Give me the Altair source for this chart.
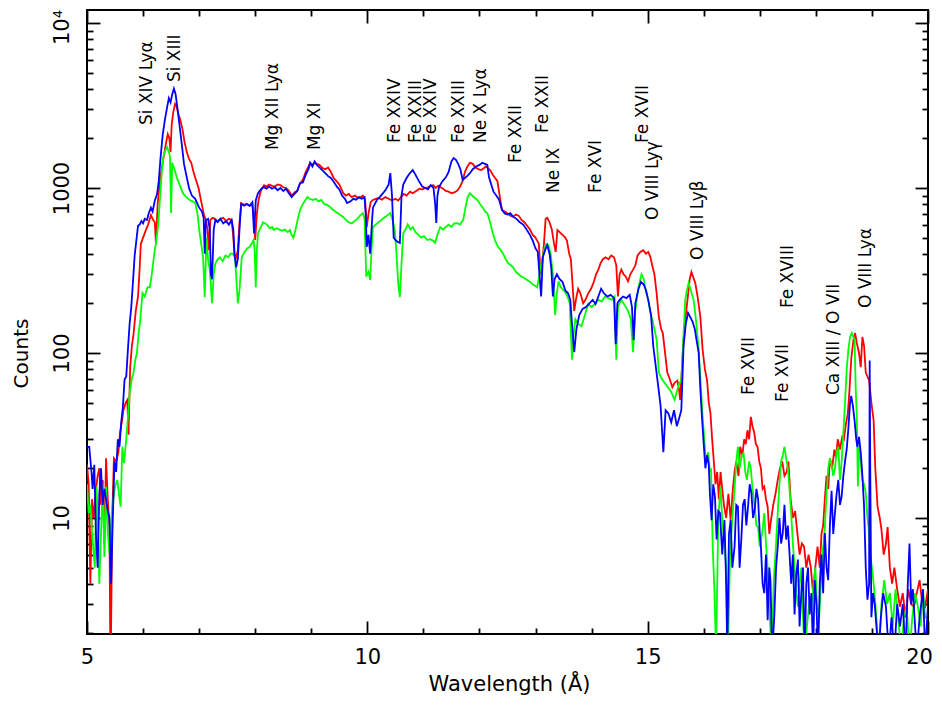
import altair as alt
import pandas as pd

FONT = "DejaVu Sans"

# ---------------- data ----------------
blue_wl = [5.00,5.04,5.08,5.10,5.13,5.16,5.19,5.22,5.25,5.28,5.31,5.34,5.37,5.40,5.43,5.46,5.49,5.52,5.55,5.58,
5.61,5.64,5.67,5.70,5.73,5.76,5.79,5.82,5.85,5.88,5.91,5.94,5.97,6.00,6.03,6.07,6.10,6.14,6.17,6.21,
6.25,6.28,6.31,6.35,6.39,6.43,6.46,6.49,6.52,6.55,6.58,6.61,6.65,6.69,6.73,6.77,6.82,6.87,6.93,7.00,
7.05,7.08,7.10,7.12,7.16,7.19,7.21,7.23,7.26,7.29,7.33,7.38,7.43,7.48,7.53,7.58,7.61,7.63,7.66,7.69,
7.72,7.75,7.80,7.85,7.90,7.95,7.98,8.01,8.05,8.10,8.15,8.20,8.25,8.30,8.35,8.40,8.45,8.50,8.55,8.60,
8.65,8.70,8.75,8.80,8.85,8.90,8.95,8.98,9.02,9.06,9.10,9.15,9.20,9.25,9.30,9.35,9.40,9.46,9.50,9.55,
9.60,9.64,9.70,9.75,9.80,9.85,9.90,9.95,9.97,9.99,10.02,10.05,10.08,10.10,10.17,10.22,10.28,10.33,10.38,10.41,
10.44,10.47,10.51,10.55,10.58,10.61,10.64,10.70,10.75,10.81,10.86,10.92,10.98,11.03,11.08,11.13,11.18,11.21,11.23,11.25,
11.28,11.34,11.40,11.45,11.50,11.54,11.58,11.62,11.66,11.70,11.74,11.78,11.83,11.88,11.94,12.00,12.05,12.10,12.14,12.17,
12.21,12.25,12.30,12.35,12.40,12.45,12.50,12.55,12.60,12.66,12.72,12.78,12.84,12.90,12.95,13.00,13.04,13.07,13.10,13.13,
13.17,13.21,13.25,13.28,13.31,13.34,13.38,13.43,13.48,13.53,13.58,13.62,13.65,13.69,13.73,13.78,13.84,13.90,13.96,14.02,
14.07,14.12,14.17,14.22,14.28,14.34,14.40,14.43,14.46,14.50,14.56,14.62,14.68,14.72,14.75,14.78,14.83,14.88,14.93,14.97,
15.01,15.06,15.10,15.15,15.19,15.23,15.28,15.32,15.37,15.42,15.47,15.52,15.56,15.60,15.64,15.68,15.72,15.76,15.80,15.84,
15.88,15.91,15.94,15.97,16.00,16.03,16.06,16.09,16.11,16.14,16.17,16.20,16.23,16.26,16.29,16.33,16.37,16.40,16.42,16.45,
16.48,16.51,16.55,16.58,16.61,16.64,16.67,16.70,16.73,16.76,16.79,16.82,16.85,16.88,16.91,16.94,16.97,17.00,17.02,17.05,
17.08,17.11,17.14,17.17,17.19,17.22,17.26,17.29,17.32,17.35,17.38,17.41,17.44,17.47,17.50,17.53,17.56,17.59,17.62,17.65,
17.68,17.71,17.74,17.77,17.80,17.83,17.86,17.89,17.92,17.95,17.98,18.01,18.04,18.07,18.10,18.13,18.16,18.19,18.22,18.25,
18.28,18.31,18.34,18.37,18.40,18.43,18.46,18.49,18.52,18.55,18.58,18.61,18.63,18.66,18.69,18.72,18.74,18.77,18.80,18.83,
18.86,18.89,18.92,18.95,18.96,18.97,18.99,19.02,19.05,19.08,19.12,19.16,19.20,19.25,19.30,19.35,19.40,19.45,19.50,19.55,
19.60,19.64,19.67,19.70,19.73,19.77,19.80,19.85,19.91,19.95,20.00]
blue_counts = [27,27,19,15,21,8,5,14,20,12,15,13,11,10,4,10,22,19,30,27,
38,47,69,72,105,150,190,270,390,480,590,600,630,610,650,640,700,760,720,840,
920,1100,1500,2100,2600,3100,3500,3300,3700,4000,3700,3100,2400,1850,1400,1200,1000,900,860,760,
720,660,400,640,650,560,300,280,560,640,620,650,610,630,600,640,560,400,330,370,
560,800,780,800,780,820,530,840,930,980,1015,990,1020,990,1010,970,1000,960,990,930,
880,920,960,1070,1080,1200,1300,1420,1350,1450,1380,1330,1280,1230,1180,1150,1090,1015,980,900,
860,810,830,860,850,880,860,880,700,440,520,400,600,760,846,880,930,980,1050,1230,
900,500,480,470,465,900,1050,1150,1220,1285,1200,1100,1020,1000,980,1040,1000,800,613,900,
1015,1100,1160,1250,1450,1520,1480,1400,1300,1120,1150,1180,1230,1300,1350,1380,1420,1400,1380,1160,
1050,950,900,850,740,700,690,705,670,650,620,600,560,520,480,430,410,300,220,380,
420,450,400,330,220,280,300,280,270,240,230,210,150,101,140,170,185,190,200,210,
198,220,245,230,220,225,215,113,200,210,220,215,225,190,120,200,240,270,260,240,
210,170,110,80,62,48,25,45,43,38,45,36,40,45,110,150,175,165,155,140,
115,100,60,40,28,20,24,21,14,9.7,16,13.5,7.4,11,10.7,6,9.7,4,1.5,8,
9.7,5,6.7,12,11.7,5,7.4,12,13,9,11.7,16,14.2,10,11.3,15,13,8,6.7,4,
3.5,6,2.4,5,4.2,1.5,2.6,5,6.7,10,7,8.1,12,7.4,9,6.1,4,6,2.6,4.5,
5.6,2.2,3.5,5,1.5,4,5,2.6,3.5,1.5,4.2,3,1.5,4,6,3.5,8.1,5,4.2,9,
14.6,8,10.7,14,17,12,13.5,18,22,26,35,50,55,48,39,30,27,31,25,18,
11.7,5,3.2,4,90,20,2.5,3.5,3,2.2,1.5,2.5,3.5,2.9,1.5,2.5,1.5,3,2.2,3,
1.5,4,7,3,3.7,2.2,1.5,2.5,3.7,1.5,3]

red_wl = [5.00,5.03,5.06,5.09,5.12,5.16,5.19,5.22,5.25,5.28,5.31,5.34,5.37,5.40,5.42,5.45,5.48,5.52,5.56,5.59,
5.62,5.65,5.69,5.72,5.74,5.77,5.80,5.83,5.87,5.91,5.94,5.96,6.00,6.05,6.09,6.14,6.18,6.21,6.23,6.26,
6.30,6.35,6.40,6.44,6.47,6.49,6.51,6.54,6.57,6.60,6.63,6.66,6.70,6.74,6.78,6.82,6.86,6.90,6.95,6.99,
7.03,7.06,7.09,7.12,7.15,7.17,7.20,7.24,7.28,7.33,7.38,7.43,7.48,7.53,7.58,7.61,7.63,7.66,7.69,7.72,
7.75,7.80,7.85,7.90,7.95,7.98,8.00,8.03,8.06,8.10,8.16,8.20,8.25,8.30,8.35,8.40,8.45,8.50,8.55,8.60,
8.65,8.70,8.75,8.80,8.85,8.90,8.95,8.98,9.02,9.06,9.10,9.15,9.20,9.25,9.30,9.35,9.40,9.45,9.50,9.57,
9.62,9.67,9.72,9.78,9.83,9.88,9.92,9.96,9.99,10.02,10.06,10.10,10.15,10.20,10.26,10.32,10.38,10.44,10.50,10.55,
10.60,10.65,10.70,10.76,10.81,10.87,10.93,10.98,11.03,11.08,11.13,11.18,11.22,11.26,11.30,11.35,11.40,11.45,11.50,11.55,
11.60,11.65,11.70,11.74,11.78,11.83,11.88,11.93,11.98,12.03,12.07,12.11,12.15,12.19,12.24,12.28,12.32,12.36,12.40,12.45,
12.49,12.55,12.60,12.65,12.70,12.75,12.80,12.85,12.90,12.95,12.99,13.03,13.06,13.09,13.12,13.15,13.18,13.21,13.25,13.29,
13.33,13.36,13.39,13.43,13.48,13.52,13.56,13.60,13.63,13.66,13.69,13.72,13.76,13.80,13.85,13.89,13.94,13.99,14.04,14.08,
14.12,14.16,14.20,14.25,14.30,14.35,14.40,14.44,14.47,14.50,14.53,14.57,14.61,14.65,14.69,14.74,14.78,14.82,14.87,14.92,
14.97,15.01,15.05,15.08,15.12,15.16,15.20,15.24,15.27,15.31,15.35,15.39,15.44,15.48,15.53,15.56,15.58,15.61,15.64,15.68,
15.71,15.75,15.78,15.81,15.85,15.89,15.94,15.98,16.02,16.06,16.09,16.12,16.15,16.18,16.21,16.24,16.27,16.30,16.33,16.36,
16.40,16.44,16.48,16.52,16.55,16.58,16.62,16.65,16.69,16.72,16.75,16.78,16.81,16.84,16.87,16.90,16.93,16.96,16.99,17.02,
17.05,17.08,17.11,17.14,17.17,17.20,17.24,17.28,17.32,17.36,17.40,17.44,17.48,17.51,17.55,17.59,17.63,17.67,17.71,17.75,
17.79,17.83,17.87,17.91,17.95,17.99,18.03,18.07,18.10,18.13,18.16,18.19,18.22,18.25,18.29,18.33,18.36,18.39,18.43,18.47,
18.50,18.53,18.57,18.60,18.63,18.67,18.70,18.73,18.77,18.80,18.83,18.86,18.89,18.92,18.95,18.99,19.03,19.06,19.10,19.14,
19.17,19.21,19.25,19.28,19.32,19.36,19.40,19.45,19.50,19.55,19.60,19.65,19.70,19.75,19.80,19.85,19.90,19.95,20.00]
red_counts = [21,16,4,13,10,15,18,20,12,17,7,23,13,9,1,10,23,22,25,33,
38,45,50,52,32,82,110,130,180,220,330,458,500,555,600,685,640,620,458,800,
1100,1420,1800,2120,2000,1650,2400,2900,3230,3100,2800,2620,2300,1900,1650,1500,1420,1250,1100,1000,
850,760,680,640,560,420,640,660,650,630,650,660,630,650,640,500,400,380,420,620,
810,790,800,780,790,650,484,700,846,960,1040,1020,1050,1030,1020,1050,1040,1010,1000,960,
900,940,960,1070,1120,1250,1350,1420,1380,1420,1400,1380,1320,1300,1330,1250,1150,1100,1050,930,
900,920,880,900,870,880,900,850,580,700,820,846,860,870,850,880,860,840,860,840,
880,920,900,950,930,960,990,980,1000,1010,1030,1040,1000,1030,1015,990,960,950,930,940,
960,1015,1100,1250,1340,1420,1400,1330,1300,1285,1310,1350,1320,1285,1200,1150,1100,900,736,720,
705,680,670,690,680,640,620,590,560,520,505,480,458,300,350,458,650,660,620,560,
460,410,555,540,520,505,480,400,370,260,180,210,245,230,200,210,230,245,270,300,
320,350,370,380,370,390,380,340,220,300,320,300,290,272,300,320,340,390,410,420,
400,410,380,340,300,230,165,140,132,100,76,70,62,66,68,60,52,80,120,170,
209,280,310,290,265,220,165,105,80,68,50,43,30,22,16,19,13,19,15,12,
10,14,9.7,15,19,22,18,27,24,30,28,34,30,41,36,33,28,27,22,20,
15,15.5,13,11.7,8,9.7,12,14,17,20,22,18,19,22,13,10,11,8.1,6,7,
6.7,5,6,5,3.5,5,6.7,5,8,9,13,18,15,23,20,26,23,30,26,31,
30,36,43,60,91,120,132,115,100,82,125,110,76,72,68,50,39,20,11.7,10,
8.5,6,7,8.8,5,4,5,3.7,2.9,3.5,2.5,3.7,3,2.9,3.5,4.2,3,2.9,3.7]

green_wl = [5.00,5.03,5.06,5.09,5.12,5.14,5.17,5.19,5.22,5.25,5.28,5.31,5.34,5.37,5.40,5.44,5.47,5.50,5.54,5.57,
5.60,5.63,5.66,5.70,5.73,5.76,5.80,5.83,5.86,5.89,5.92,5.95,5.99,6.03,6.08,6.12,6.15,6.17,6.20,6.23,
6.27,6.30,6.33,6.36,6.40,6.43,6.46,6.48,6.50,6.52,6.56,6.60,6.65,6.71,6.77,6.83,6.88,6.93,6.97,7.01,
7.04,7.07,7.10,7.13,7.16,7.19,7.23,7.26,7.29,7.33,7.37,7.42,7.47,7.52,7.56,7.60,7.64,7.67,7.69,7.72,
7.76,7.81,7.86,7.90,7.94,7.97,7.99,8.01,8.03,8.05,8.10,8.14,8.18,8.21,8.26,8.30,8.33,8.38,8.43,8.48,
8.53,8.58,8.62,8.65,8.68,8.72,8.76,8.80,8.85,8.90,8.93,8.97,9.03,9.08,9.13,9.18,9.23,9.28,9.33,9.38,
9.43,9.48,9.53,9.57,9.62,9.67,9.72,9.77,9.82,9.87,9.92,9.95,9.98,10.02,10.05,10.08,10.10,10.15,10.20,10.25,
10.30,10.35,10.41,10.45,10.49,10.52,10.55,10.58,10.61,10.64,10.68,10.72,10.77,10.81,10.86,10.91,10.96,11.01,11.07,11.12,
11.17,11.21,11.25,11.30,11.35,11.40,11.45,11.50,11.55,11.60,11.65,11.71,11.75,11.79,11.83,11.87,11.92,11.96,12.01,12.06,
12.10,12.14,12.19,12.24,12.28,12.33,12.38,12.42,12.47,12.51,12.56,12.60,12.65,12.70,12.75,12.80,12.85,12.90,12.95,13.00,
13.03,13.07,13.11,13.15,13.19,13.23,13.27,13.31,13.35,13.38,13.41,13.45,13.50,13.54,13.57,13.61,13.65,13.68,13.71,13.76,
13.82,13.88,13.94,14.00,14.06,14.12,14.18,14.24,14.30,14.36,14.41,14.44,14.47,14.53,14.59,14.65,14.70,14.74,14.78,14.83,
14.89,14.93,14.96,15.01,15.05,15.08,15.12,15.16,15.20,15.25,15.30,15.36,15.42,15.48,15.53,15.57,15.60,15.64,15.67,15.70,
15.73,15.77,15.82,15.86,15.91,15.94,15.98,16.01,16.04,16.08,16.11,16.13,16.16,16.19,16.22,16.26,16.30,16.33,16.37,16.40,
16.43,16.47,16.51,16.55,16.58,16.61,16.64,16.67,16.71,16.74,16.77,16.81,16.84,16.87,16.91,16.94,16.97,17.00,17.04,17.08,
17.11,17.14,17.18,17.21,17.25,17.29,17.32,17.35,17.38,17.41,17.44,17.47,17.50,17.53,17.56,17.59,17.62,17.65,17.68,17.71,
17.74,17.77,17.80,17.84,17.88,17.92,17.96,17.99,18.02,18.06,18.09,18.12,18.16,18.19,18.22,18.25,18.28,18.31,18.34,18.37,
18.40,18.43,18.46,18.49,18.52,18.55,18.58,18.61,18.64,18.67,18.69,18.71,18.73,18.75,18.77,18.80,18.83,18.86,18.89,18.92,
18.94,18.97,19.00,19.04,19.08,19.12,19.17,19.22,19.27,19.32,19.37,19.42,19.47,19.52,19.57,19.62,19.67,19.72,19.77,19.82,
19.87,19.91,19.95,20.00]
green_counts = [16,10.7,12,8.1,6,5,15.5,10.7,4,8.1,16,5.8,15.5,8.1,6.1,10.7,13,15.5,17,14,
11.7,27,21.5,30,41,57,70,76,90,100,130,158,231,220,250,250,290,330,400,465,
600,846,1200,1540,1700,1770,1650,1550,705,1420,1300,1160,1050,930,880,846,830,810,700,530,
450,380,218,500,366,320,200,300,350,370,380,360,390,380,400,400,380,260,200,240,
380,410,430,440,460,484,420,250,420,530,580,620,610,600,570,580,556,570,560,550,
560,540,556,520,500,560,650,736,800,850,880,860,846,860,830,846,800,790,770,740,
720,700,680,667,640,620,610,630,650,680,705,650,290,310,277,450,580,600,620,640,
660,680,705,640,556,400,265,218,350,530,560,600,560,580,540,520,500,510,484,490,
480,465,520,580,560,580,600,580,610,613,600,640,760,880,930,900,870,846,800,760,
720,705,620,530,480,440,420,400,370,350,340,330,310,300,290,285,277,270,260,255,
250,300,360,420,458,450,400,300,170,230,272,250,240,230,220,200,91,130,160,150,
145,170,198,190,198,210,205,220,215,210,220,91,190,210,195,180,160,101,180,245,
300,280,245,210,175,160,140,120,76,70,66,62,58,52,60,66,68,130,209,240,
265,240,209,160,105,70,41,30,22,25,19,20,6.7,3.7,1.5,10,15.5,9.7,7,5,
1.5,6,10,15,22,27,20,23,25,19,17,22,20,15,11.7,9,8.8,6.7,8,10.7,
7,5,2.5,1.5,4.2,7,10.7,16,22,24,27,23,20,15,10.7,7,5,3.5,2.9,4,
5,2.5,1.5,2.2,3,2.9,4,5,3,2.5,4,6,8.8,14,20,23,21,18,20,25,
27,17,22,33,50,80,105,125,132,125,120,62,41,15.5,27,22,17,16,14.2,10,
8.8,6,5,3.7,2.5,1.5,3,4.2,3,3.5,2.2,3.7,2.5,1.5,2.5,2.9,1.5,2.5,3.5,2.9,
2.2,3.7,2.5,2.5]

label_text = ["Si XIV Lyα", "Si XIII", "Mg XII Lyα", "Mg XI", "Fe XXIV", "Fe XXIII", "Fe XXIV",
              "Fe XXIII", "Ne X Lyα", "Fe XXII", "Fe XXII", "Ne IX", "Fe XVI", "O VIII Lyγ",
              "Fe XVII", "O VIII Lyβ", "Fe XVII", "Fe XVII", "Fe XVIII", "Ca XIII / O VII", "O VIII Lyα"]
label_wl = [6.16, 6.66, 8.41, 9.16, 10.59, 10.95, 11.22, 11.72, 12.11, 12.74, 13.22, 13.41, 14.16, 15.18,
            15.00, 15.99, 16.90, 17.50, 17.59, 18.41, 18.99]
label_counts = [2410, 4385, 1698, 1698, 1874, 1874, 1874, 1874, 1874, 1417, 2154, 933, 933, 640,
                1874, 366, 55.6, 50.5, 187, 55.6, 187]

x_major = [5, 10, 15, 20]
x_minor = [6, 7, 8, 9, 11, 12, 13, 14, 16, 17, 18, 19]
y_major = [10, 100, 1000, 10000]
y_minor = [2, 3, 4, 5, 6, 7, 8, 9, 20, 30, 40, 50, 60, 70, 80, 90,
           200, 300, 400, 500, 600, 700, 800, 900, 2000, 3000, 4000, 5000, 6000, 7000, 8000, 9000]

X_DOMAIN = [5, 20]
Y_DOMAIN = [1.98, 11990]

red_df = pd.DataFrame({"wl": red_wl, "counts": red_counts})
green_df = pd.DataFrame({"wl": green_wl, "counts": green_counts})
blue_df = pd.DataFrame({"wl": blue_wl, "counts": blue_counts})
label_df = pd.DataFrame({"wl": label_wl, "counts": label_counts, "label": label_text})


def xs(axis):
    return alt.X("wl:Q", scale=alt.Scale(domain=X_DOMAIN, nice=False, zero=False), axis=axis)


def ys(axis):
    return alt.Y("counts:Q", scale=alt.Scale(type="log", domain=Y_DOMAIN, nice=False), axis=axis)


def tick_axis(orient, values, size):
    return alt.Axis(orient=orient, values=values, labels=False, domain=False, grid=False,
                    ticks=True, tickSize=size, offset=-size, tickColor="black", tickWidth=1.8,
                    title="")


ax_x_labels = alt.Axis(orient="bottom", values=x_major, ticks=False, tickSize=0, domain=False,
                       grid=False, labelFontSize=21, labelFont=FONT, labelColor="black",
                       labelPadding=12, labelFlush=False, labelOverlap=False, format="d",
                       labelOffset={"condition": {"test": "datum.value >= 19.9", "value": -9}, "value": 0},
                       title="Wavelength (Å)", titleFont=FONT, titleFontSize=21,
                       titleFontWeight="normal", titleColor="black", titleX=422, titleY=50,
                       titleAlign="center", titleBaseline="middle")

ax_y_labels = alt.Axis(orient="left", values=y_major, ticks=False, tickSize=0, domain=False,
                       grid=False, labelAngle=270, labelAlign="center", labelBaseline="bottom",
                       labelPadding=15, labelFontSize=21, labelFont=FONT, labelColor="black",
                       labelFlush=False, labelOverlap=False,
                       labelOffset={"condition": {"test": "datum.value >= 9999", "value": 4}, "value": 0},
                       labelExpr="datum.value >= 9999 ? '10⁴' : format(datum.value, 'd')",
                       title="Counts", titleFont=FONT, titleFontSize=20, titleFontWeight="normal",
                       titleColor="black", titleAngle=270, titleX=-66, titleY=343,
                       titleAlign="center", titleBaseline="middle")

red = alt.Chart(red_df).mark_line(color="#ff0000", strokeWidth=1.8, clip=True).encode(
    x=xs(ax_x_labels), y=ys(ax_y_labels))
green = alt.Chart(green_df).mark_line(color="#00ff00", strokeWidth=1.8, clip=True).encode(
    x=xs(tick_axis("bottom", x_major, 13)), y=ys(tick_axis("left", y_major, 13)))
blue = alt.Chart(blue_df).mark_line(color="#0000ff", strokeWidth=1.8, clip=True).encode(
    x=xs(tick_axis("top", x_major, 13)), y=ys(tick_axis("right", y_major, 13)))
labels = alt.Chart(label_df).mark_text(angle=270, align="left", baseline="alphabetic",
                                       font=FONT, fontSize=17, color="black").encode(
    x=xs(tick_axis("bottom", x_minor, 6)), y=ys(tick_axis("left", y_minor, 6)), text="label:N")
extra = alt.Chart(label_df).mark_point(opacity=0).encode(
    x=xs(tick_axis("top", x_minor, 6)), y=ys(tick_axis("right", y_minor, 6)))

chart = alt.layer(red, green, blue, labels, extra).resolve_axis(
    x="independent", y="independent"
).properties(
    width=841, height=624,
    autosize=alt.AutoSizeParams(type="none"),
    padding={"left": 79, "top": 2, "right": 6, "bottom": 64},
    background="white",
).configure_view(stroke="black", strokeWidth=2)

chart.save("out.html", embed_options={"renderer": "svg", "actions": False})
